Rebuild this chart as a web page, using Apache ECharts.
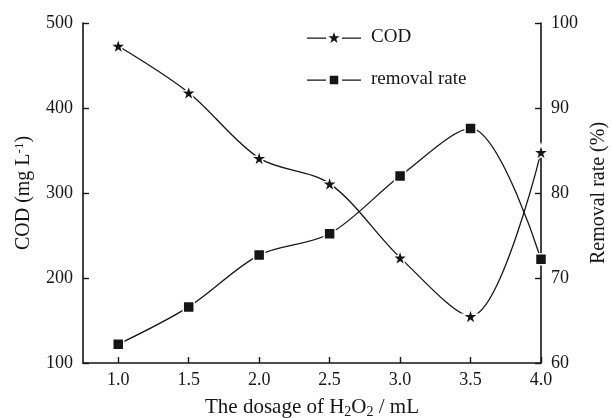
<!DOCTYPE html>
<html>
<head>
<meta charset="utf-8">
<script src="https://cdn.jsdelivr.net/npm/echarts@6/dist/echarts.min.js"></script>
<style>
  html, body { margin: 0; padding: 0; background: #fff; }
  #chart { width: 612px; height: 418px; }
</style>
</head>
<body>
<div id="chart"></div>
<script>
// H2O2 dosage (mL)
const dosage = [1.0, 1.5, 2.0, 2.5, 3.0, 3.5, 4.0];
// COD remaining (mg/L), left axis
const codValues = [473, 418, 341, 311, 224, 155, 348];
// COD removal rate (%), right axis
const removalRate = [62.2, 66.6, 72.7, 75.2, 82.0, 87.6, 72.2];
// tick labels
const xTicks = [1.0, 1.5, 2.0, 2.5, 3.0, 3.5, 4.0];

const FONT = '"Liberation Serif", "DejaVu Serif", serif';
const INK = '#151515';
const STAR = 'path://M50,2 L61.2,36.1 L97.5,36.1 L68.2,57.4 L79.4,91.6 L50,70.5 L20.6,91.6 L31.8,57.4 L2.5,36.1 L38.8,36.1 Z';

// legend keys: short line, marker, short line (54 x 10.85 box)
const KEY_STAR = 'path://M0,5.4H19V6.6H0Z M27,0L28.41,4.06L32.71,4.15L29.28,6.74L30.53,10.85L27,8.4L23.47,10.85L24.72,6.74L21.29,4.15L25.59,4.06Z M35,5.4H54V6.6H35Z';
const KEY_RECT = 'path://M27,0L27,0Z M0,5.4H19V6.6H0Z M22.75,1.75H31.25V10.25H22.75Z M35,5.4H54V6.6H35Z M27,10.85L27,10.85Z';

const pairs = (xs, ys) => xs.map((x, i) => [x, ys[i]]);

const chart = echarts.init(document.getElementById('chart'), null, { renderer: 'canvas' });

const axisCommon = {
  axisLine: { show: true, lineStyle: { color: INK, width: 1.6 } },
  axisTick: { show: true, inside: true, length: 6, lineStyle: { color: INK, width: 1.4 } },
  splitLine: { show: false },
  axisLabel: { color: INK, fontFamily: FONT, fontSize: 18 }
};

chart.setOption({
  animation: false,
  backgroundColor: '#fff',
  grid: { left: 83, right: 71, top: 23, bottom: 55, containLabel: false, outerBoundsMode: 'none' },
  legend: {
    orient: 'vertical',
    left: 307,
    top: 28,
    padding: 0,
    itemWidth: 54,
    itemHeight: 11,
    itemGap: 23,
    itemStyle: { color: INK, borderWidth: 0 },
    textStyle: { color: INK, fontFamily: FONT, fontSize: 19, padding: [0, 0, 0, 5] },
    data: [
      { name: 'COD', icon: KEY_STAR },
      { name: 'removal rate', icon: KEY_RECT }
    ]
  },
  xAxis: {
    type: 'value',
    min: 0.75,
    max: 4.0,
    ...axisCommon,
    axisTick: { ...axisCommon.axisTick, customValues: xTicks },
    axisLabel: {
      ...axisCommon.axisLabel,
      customValues: xTicks,
      margin: 8,
      formatter: v => v.toFixed(1)
    },
    name: '{t|The dosage of H}{s|2}{t|O}{s|2}{t| / mL}',
    nameLocation: 'middle',
    nameGap: 33,
    nameTextStyle: {
      rich: {
        t: { fontFamily: FONT, fontSize: 21, color: INK },
        s: { fontFamily: FONT, fontSize: 14, color: INK, padding: [9, 0, 0, 0] }
      }
    }
  },
  yAxis: [
    {
      type: 'value',
      min: 100,
      max: 500,
      interval: 100,
      ...axisCommon,
      axisLabel: { ...axisCommon.axisLabel, margin: 10 },
      name: '{t|COD (mg L}{p|-1}{t|)}',
      nameLocation: 'middle',
      nameGap: 48,
      nameRotate: 90,
      nameTextStyle: {
        rich: {
          t: { fontFamily: FONT, fontSize: 20, color: INK },
          p: { fontFamily: FONT, fontSize: 13, color: INK, padding: [0, 0, 9, 0] }
        }
      }
    },
    {
      type: 'value',
      min: 60,
      max: 100,
      interval: 10,
      position: 'right',
      ...axisCommon,
      axisLabel: { ...axisCommon.axisLabel, margin: 10 },
      name: 'Removal rate (%)',
      nameLocation: 'middle',
      nameGap: 47,
      nameRotate: 90,
      nameTextStyle: { fontFamily: FONT, fontSize: 20, color: INK }
    }
  ],
  series: [
    {
      name: 'COD',
      type: 'line',
      yAxisIndex: 0,
      data: pairs(dosage, codValues),
      smooth: 0.32,
      symbol: STAR,
      symbolSize: 16,
      lineStyle: { color: INK, width: 1.3 },
      itemStyle: { color: INK, borderColor: '#fff', borderWidth: 1.5 }
    },
    {
      name: 'removal rate',
      type: 'line',
      yAxisIndex: 1,
      data: pairs(dosage, removalRate),
      smooth: 0.32,
      symbol: 'rect',
      symbolSize: 11,
      lineStyle: { color: INK, width: 1.3 },
      itemStyle: { color: INK, borderColor: '#fff', borderWidth: 1.5 }
    }
  ]
});
</script>
</body>
</html>
